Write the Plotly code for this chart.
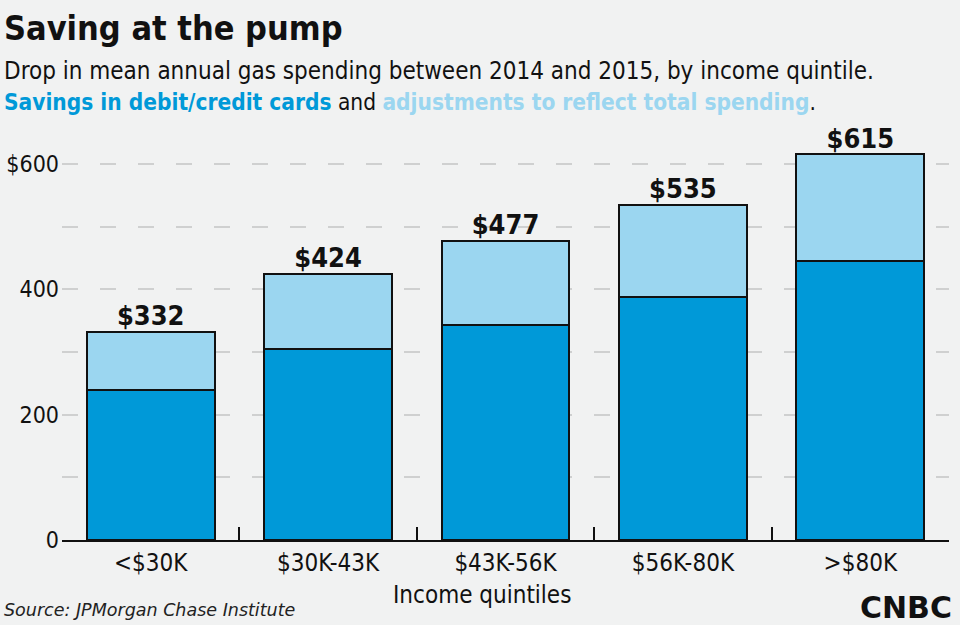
import plotly.graph_objects as go

categories = ["<$30K", "$30K-43K", "$43K-56K", "$56K-80K", ">$80K"]
card_savings = [240, 305, 343, 387, 445]
adjustments = [92, 119, 134, 148, 170]
totals = [332, 424, 477, 535, 615]
y_ticks = [0, 100, 200, 300, 400, 500, 600]
y_tick_text = ["0", "", "200", "", "400", "", "$600"]

DARK = "#0099d8"
LIGHT = "#9bd6f0"
BG = "#f1f2f2"
FONT = "Liberation Sans Narrow, DejaVu Sans Condensed, sans-serif"

xs = list(range(len(categories)))

fig = go.Figure()
fig.add_trace(go.Bar(x=xs, y=card_savings, width=0.72, marker=dict(color=DARK, line=dict(color="#111", width=2)),
                     hoverinfo="skip", showlegend=False))
fig.add_trace(go.Bar(x=xs, y=adjustments, width=0.72, marker=dict(color=LIGHT, line=dict(color="#111", width=2)),
                     hoverinfo="skip", showlegend=False))
fig.add_trace(go.Scatter(x=xs, y=totals, mode="text", text=["<b>$%d</b>" % t for t in totals],
                         textposition="top center", textfont=dict(family=FONT, size=27, color="#111"),
                         hoverinfo="skip", showlegend=False, cliponaxis=False))
# invisible trace on xaxis2 for boundary ticks
fig.add_trace(go.Scatter(x=[-0.5, 4.5], y=[0, 0], xaxis="x2", mode="markers", marker=dict(opacity=0),
                         hoverinfo="skip", showlegend=False))

L, R, T, B = 62, 11, 140, 85
W, H = 960, 625
def px(x):
    return (x - L) / (W - L - R)
def py(y):
    return (H - B - y) / (H - T - B)

fig.update_layout(
    width=W, height=H, barmode="stack", bargap=0.28,
    margin=dict(l=L, r=R, t=T, b=B, autoexpand=False),
    paper_bgcolor=BG, plot_bgcolor=BG,
    font=dict(family=FONT, size=24, color="#111"),
    xaxis=dict(range=[-0.5, 4.5], tickvals=xs, ticktext=categories, ticks="", showgrid=False,
               showline=True, linecolor="#111", linewidth=2, zeroline=False, automargin=False,
               tickfont=dict(family=FONT, size=24, color="#111"), fixedrange=True),
    xaxis2=dict(range=[-0.5, 4.5], overlaying="x", anchor="y", side="bottom", automargin=False,
                tickvals=[-0.5, 0.5, 1.5, 2.5, 3.5, 4.5], ticks="inside", ticklen=13, tickwidth=1.6,
                tickcolor="#111", showticklabels=False, showgrid=False, showline=False, zeroline=False),
    yaxis=dict(range=[0, 638], tickvals=y_ticks, ticktext=y_tick_text, ticks="", showline=False,
               zeroline=False, gridcolor="#cfd0d0", griddash="16px,22px", gridwidth=1.5, automargin=False,
               ticklabelstandoff=2,
               tickfont=dict(family=FONT, size=23, color="#111"), fixedrange=True),
    annotations=[
        dict(text="<b>Saving at the pump</b>", xref="paper", yref="paper", x=px(2), y=py(28),
             xanchor="left", yanchor="middle", showarrow=False, font=dict(family=FONT, size=34, color="#111")),
        dict(text="Drop in mean annual gas spending between 2014 and 2015, by income quintile.",
             xref="paper", yref="paper", x=px(2), y=py(71), xanchor="left", yanchor="middle",
             showarrow=False, font=dict(family=FONT, size=24, color="#111")),
        dict(text=("<span style='color:%s'><b>Savings in debit/credit cards</b></span> and "
                   "<span style='color:%s'><b>adjustments to reflect total spending</b></span>.") % (DARK, LIGHT),
             xref="paper", yref="paper", x=px(2), y=py(102), xanchor="left", yanchor="middle",
             showarrow=False, font=dict(family=FONT, size=22.5, color="#111")),
        dict(text="Income quintiles", xref="paper", yref="paper", x=px(482), y=py(595),
             xanchor="center", yanchor="middle", showarrow=False, font=dict(family=FONT, size=24, color="#111")),
        dict(text="<i>Source: JPMorgan Chase Institute</i>", xref="paper", yref="paper", x=px(2), y=py(610),
             xanchor="left", yanchor="middle", showarrow=False, font=dict(family="DejaVu Sans", size=17.5, color="#222")),
        dict(text="<b>CNBC</b>", xref="paper", yref="paper", x=px(954), y=py(607),
             xanchor="right", yanchor="middle", showarrow=False, font=dict(family="DejaVu Sans", size=30, color="#111")),
    ],
)

fig.write_html("out.html")
